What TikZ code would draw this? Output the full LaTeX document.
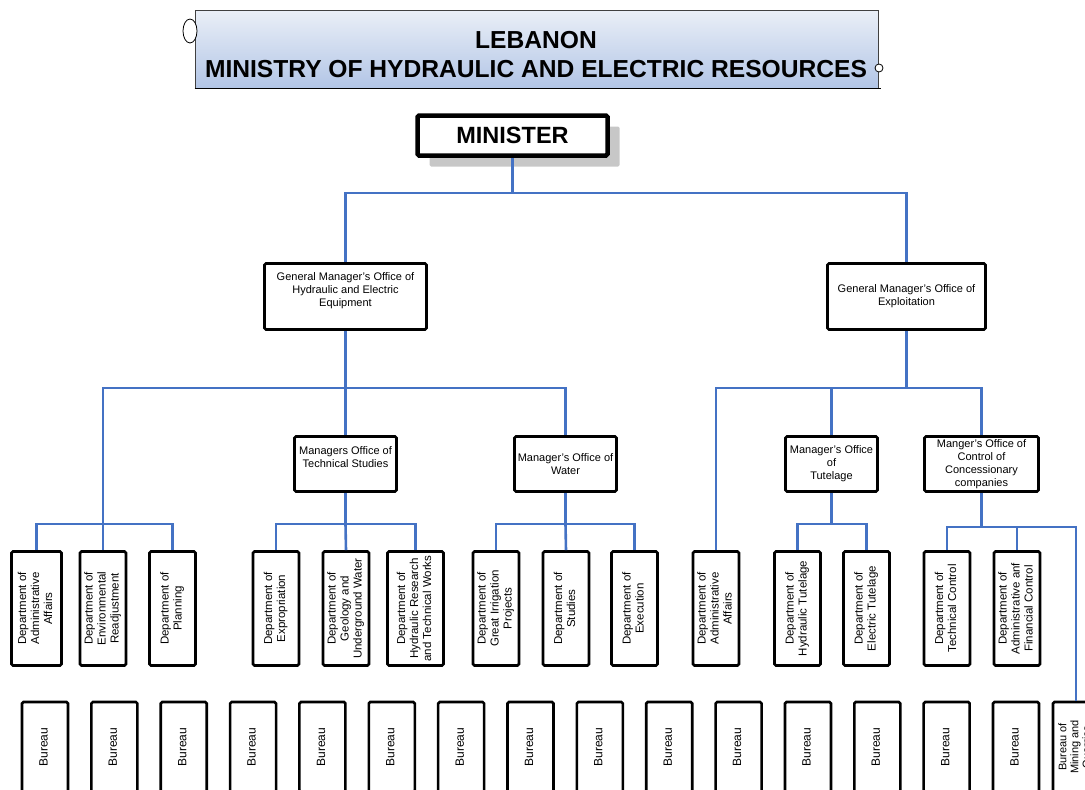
\documentclass[tikz,border=0pt]{standalone}
\usepackage{fontspec}
\setmainfont{Liberation Sans}
\usepackage{graphicx}
\usetikzlibrary{shadows}

\definecolor{linkblue}{RGB}{68,114,196}
\definecolor{titletop}{RGB}{234,239,247}
\definecolor{titlebot}{RGB}{178,197,230}

% vertical text for the department and bureau boxes
\newcommand{\vtext}[1]{\rotatebox{90}{\begin{tabular}{@{}c@{}}#1\end{tabular}}}

\begin{document}
\begin{tikzpicture}[x=1pt,y=-1pt,
  box/.style={draw,line width=2.6pt,rounded corners=1.5pt,fill=white,align=center,inner sep=1pt,font=\fontsize{11}{13}\selectfont},
  dept/.style={box,minimum width=46,minimum height=114,font=\fontsize{11.5}{13}\selectfont},
  bureau/.style={box,minimum width=46,minimum height=90,font=\fontsize{12}{13}\selectfont},
  link/.style={draw=linkblue,line width=2.6pt}]
\useasboundingbox (0,0) rectangle (1085,790);

% title
\node[draw=black!75,line width=0.8pt,top color=titletop,bottom color=titlebot,minimum width=683,minimum height=78] (titlebox) at (536.5,49) {};
\node[font=\fontsize{24.6}{29}\selectfont\bfseries,align=center] (titletext) at (536,55) {LEBANON\\MINISTRY OF HYDRAULIC AND ELECTRIC RESOURCES};
\draw[line width=1pt] (titlebox.south west) -- ++(686,0);
\draw[fill=white,line width=0.8pt] (190,31) ellipse [x radius=7,y radius=12];
\draw[fill=white,line width=0.8pt] (879,68) circle [radius=4];

% minister and general managers
\node[box,line width=4.5pt,minimum width=190,minimum height=40,font=\fontsize{23.5}{27}\selectfont\bfseries,
  drop shadow={shadow xshift=12pt,shadow yshift=-11pt,fill=black!22,opacity=1}] (minister) at (512.5,135.5) {MINISTER};
\node[box,minimum width=162,minimum height=66] (gm1) at (345.5,296.5) {General Manager's Office of\\Hydraulic and Electric\\Equipment\\ \mbox{}};
\node[box,minimum width=158,minimum height=66] (gm2) at (906.5,296.5) {General Manager's Office of\\Exploitation};

% managers
\node[box,minimum width=102,minimum height=55] (tech) at (345.5,464) {Managers Office of\\Technical Studies\\ \mbox{}};
\node[box,minimum width=102,minimum height=55] (water) at (565.5,464) {Manager's Office of\\Water};
\node[box,minimum width=92,minimum height=55] (tut) at (831.5,464) {Manager's Office\\of\\Tutelage};
\node[box,minimum width=114,minimum height=55] (ctrl) at (981.5,464) {Manger's Office of\\Control of\\Concessionary\\companies};

% departments
\node[dept,minimum width=50] (d1) at (36.5,608.5) {\vtext{Department of\\Administrative\\Affairs}};
\node[dept] (d2) at (103,608.5) {\vtext{Department of\\Environmental\\Readjustment}};
\node[dept] (d3) at (172.5,608.5) {\vtext{Department of\\Planning}};
\node[dept] (d4) at (276,608.5) {\vtext{Department of\\Expropriation}};
\node[dept] (d5) at (346,608.5) {\vtext{Department of\\Geology and\\Underground Water}};
\node[dept,minimum width=56] (d6) at (415.5,608.5) {\vtext{Department of\\Hydraulic Research\\and Technical Works}};
\node[dept] (d7) at (496,608.5) {\vtext{Department of\\Great Irrigation\\Projects}};
\node[dept] (d8) at (566,608.5) {\vtext{Department of\\Studies}};
\node[dept] (d9) at (634.5,608.5) {\vtext{Department of\\Execution}};
\node[dept] (d10) at (716,608.5) {\vtext{Department of\\Administrative\\Affairs}};
\node[dept] (d11) at (797.5,608.5) {\vtext{Department of\\Hydraulic Tutelage}};
\node[dept] (d12) at (866.5,608.5) {\vtext{Department of\\Electric Tutelage}};
\node[dept] (d13) at (947,608.5) {\vtext{Department of\\Technical Control}};
\node[dept] (d14) at (1017,608.5) {\vtext{Department of\\Administrative anf\\Financial Control}};

% bureaus
\foreach \i in {0,...,14}
  \node[bureau] (bu\i) at ({45+69.36*\i},747) {\vtext{Bureau}};
\node[bureau,font=\fontsize{11}{12}\selectfont] (mining) at (1076,747) {\vtext{Bureau of\\Mining and\\Quarries}};

% junctions
\coordinate (top) at (512.5,193);
\coordinate (b1) at (345.5,388);
\coordinate (b2) at (906.5,388);
\coordinate (s1) at (103,524);
\coordinate (s2) at (345.5,524);
\coordinate (s3) at (565.5,524);
\coordinate (s4) at (831.5,524);
\coordinate (s5) at (981.5,527);

% connectors
\draw[link] (minister) -- (top);
\draw[link] (gm1.north) |- (top) -| (gm2.north);
\draw[link] (gm1.south) -- (b1);
\draw[link] (s1) |- (b1) -| (water.north);
\draw[link] (tech.north) -- (b1);
\draw[link] (d1.north) |- (s1) -| (d3.north);
\draw[link] (d2.north) -- (s1);
\draw[link] (tech.south) -- (s2);
\draw[link] (d4.north) |- (s2) -| (d6.north);
\draw[link] (d5.north) -- (s2);
\draw[link] (water.south) -- (s3);
\draw[link] (d7.north) |- (s3) -| (d9.north);
\draw[link] (d8.north) -- (s3);
\draw[link] (gm2.south) -- (b2);
\draw[link] (d10.north) |- (b2) -| (ctrl.north);
\draw[link] (tut.north) -- (tut.north |- b2);
\draw[link] (tut.south) -- (s4);
\draw[link] (d11.north) |- (s4) -| (d12.north);
\draw[link] (ctrl.south) -- (s5);
\draw[link] (d13.north) |- (s5) -| (mining.north);
\draw[link] (d14.north) -- (d14.north |- s5);
\end{tikzpicture}
\end{document}
